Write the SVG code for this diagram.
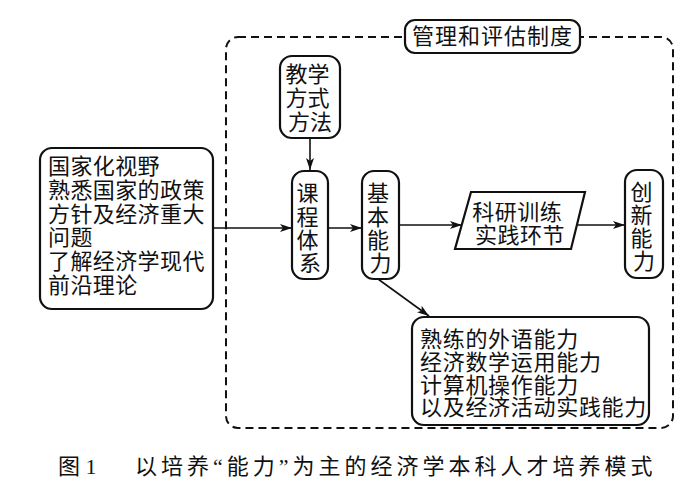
<svg xmlns="http://www.w3.org/2000/svg" width="700" height="490" viewBox="0 0 700 490">
<defs>
<style>
.box{fill:#fff;stroke:#111;stroke-width:2.2}
.t{font-family:"Noto Sans CJK SC","Noto Sans CJK JP",sans-serif;font-size:22px;fill:#111}
.c{stroke:#111;stroke-width:1.6;fill:none}
.frame{fill:none;stroke:#111;stroke-width:2;stroke-dasharray:8,5}
.cap{font-family:"Liberation Serif","Noto Sans CJK SC",serif;font-size:22px;fill:#111}
</style>
<marker id="ah" viewBox="0 0 12 8" refX="12" refY="4" markerWidth="12" markerHeight="8" markerUnits="userSpaceOnUse" orient="auto">
<path d="M0,0 L12,4 L0,8 L3,4 Z" fill="#111"/>
</marker>
</defs>
<rect width="700" height="490" fill="#fff"/>
<g id="frame">
<rect class="frame" x="226" y="37" width="447" height="391" rx="12"/>
</g>
<g id="mgmt">
<rect class="box" x="405" y="20" width="175" height="33" rx="10"/>
<text class="t" x="492.5" y="44" text-anchor="middle" letter-spacing="1">管理和评估制度</text>
</g>
<g id="connectors">
<line class="c" x1="213" y1="228" x2="292" y2="228" marker-end="url(#ah)"/>
<line class="c" x1="310" y1="138" x2="310" y2="170" marker-end="url(#ah)"/>
<line class="c" x1="328" y1="228" x2="362" y2="228" marker-end="url(#ah)"/>
<line class="c" x1="399" y1="225" x2="462" y2="225" marker-end="url(#ah)"/>
<line class="c" x1="578" y1="225" x2="625" y2="225" marker-end="url(#ah)"/>
<line class="c" x1="378" y1="279" x2="429" y2="316" marker-end="url(#ah)"/>
</g>
<g id="vision">
<rect class="box" x="40" y="148" width="173" height="161" rx="12"/>
<text class="t" letter-spacing="0.4">
<tspan x="48" y="174">国家化视野</tspan>
<tspan x="48" y="198">熟悉国家的政策</tspan>
<tspan x="48" y="222">方针及经济重大</tspan>
<tspan x="48" y="245">问题</tspan>
<tspan x="48" y="269">了解经济学现代</tspan>
<tspan x="48" y="293">前沿理论</tspan>
</text>
</g>
<g id="teaching">
<rect class="box" x="280" y="56" width="60" height="82" rx="12"/>
<text class="t" text-anchor="middle" font-size="21">
<tspan x="310" y="82">教学</tspan>
<tspan x="310" y="106">方式</tspan>
<tspan x="310" y="130">方法</tspan>
</text>
</g>
<g id="curriculum">
<rect class="box" x="292" y="171" width="36" height="108" rx="12"/>
<text class="t" text-anchor="middle" font-size="21">
<tspan x="310" y="201">课</tspan>
<tspan x="310" y="225">程</tspan>
<tspan x="310" y="248">体</tspan>
<tspan x="310" y="271">系</tspan>
</text>
</g>
<g id="basic">
<rect class="box" x="362" y="171" width="37" height="108" rx="12"/>
<text class="t" text-anchor="middle" font-size="21">
<tspan x="380.5" y="201">基</tspan>
<tspan x="380.5" y="225">本</tspan>
<tspan x="380.5" y="248">能</tspan>
<tspan x="380.5" y="271">力</tspan>
</text>
</g>
<g id="research">
<polygon class="box" points="471,192 585,192 571,249 455,249"/>
<text class="t" text-anchor="middle" letter-spacing="0.5">
<tspan x="520" y="220">科研训练</tspan>
<tspan x="520" y="243">实践环节</tspan>
</text>
</g>
<g id="innovation">
<rect class="box" x="625" y="170" width="38" height="108" rx="12"/>
<text class="t" text-anchor="middle" font-size="21">
<tspan x="644" y="200">创</tspan>
<tspan x="644" y="223">新</tspan>
<tspan x="644" y="246">能</tspan>
<tspan x="644" y="269">力</tspan>
</text>
</g>
<g id="abilities">
<rect class="box" x="412" y="317" width="237" height="108" rx="12"/>
<text class="t" letter-spacing="0.7">
<tspan x="420" y="347">熟练的外语能力</tspan>
<tspan x="420" y="370">经济数学运用能力</tspan>
<tspan x="420" y="393">计算机操作能力</tspan>
<tspan x="420" y="415">以及经济活动实践能力</tspan>
</text>
</g>
<g id="caption">
<text class="cap" x="58" y="474">图 1</text>
<text class="cap" x="135" y="474" letter-spacing="4">以培养“能力”为主的经济学本科人才培养模式</text>
</g>
</svg>
